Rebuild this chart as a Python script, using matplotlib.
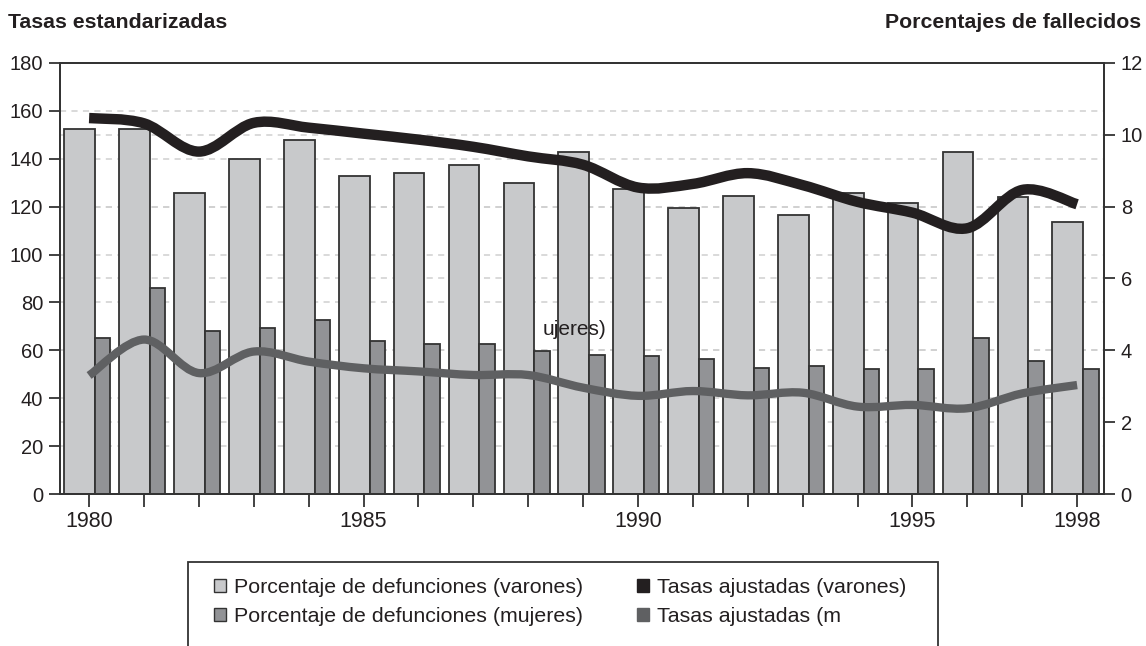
import numpy as np
import matplotlib.pyplot as plt
from matplotlib.path import Path
from matplotlib.patches import PathPatch, Patch, Rectangle

plt.rcParams['font.family'] = ['Liberation Sans', 'DejaVu Sans']

# datos
years = list(range(1980, 1999))
pct_varones = [10.17, 10.17, 8.39, 9.33, 9.85, 8.85, 8.93, 9.15, 8.66, 9.51,
               8.48, 7.97, 8.29, 7.77, 8.37, 8.09, 9.51, 8.27, 7.57]
pct_mujeres = [4.33, 5.73, 4.53, 4.62, 4.85, 4.26, 4.19, 4.19, 3.99, 3.88,
               3.85, 3.76, 3.50, 3.57, 3.47, 3.47, 4.33, 3.70, 3.47]
tasa_varones = [157, 154.8, 143, 155, 153, 150.5, 148, 145, 141, 137.5,
                128, 129.5, 134, 129, 122, 117.5, 111, 127, 121]
tasa_mujeres = [49.5, 64.5, 50.5, 59.5, 55.3, 52.5, 51.2, 49.7, 49.7, 44.4,
                41, 43, 41.2, 42.3, 36.5, 37.2, 35.8, 42, 45.5]
year_labels = {1980: '1980', 1985: '1985', 1990: '1990', 1995: '1995', 1998: '1998'}

labels = ['Porcentaje de defunciones (varones)',
          'Porcentaje de defunciones (mujeres)',
          'Tasas ajustadas (varones)',
          'Tasas ajustadas (m']

c_light = '#c8c9cb'
c_dark = '#929396'
c_black = '#231f20'
c_gray = '#5f6062'
c_text = '#231f20'


def smooth_path(xs, ys):
    # curva suave (Catmull-Rom como Bezier) que pasa por los puntos
    pts = np.column_stack([xs, ys]).astype(float)
    verts = [pts[0]]
    codes = [Path.MOVETO]
    n = len(pts)
    for i in range(n - 1):
        p0 = pts[max(i - 1, 0)]
        p1 = pts[i]
        p2 = pts[i + 1]
        p3 = pts[min(i + 2, n - 1)]
        verts += [p1 + (p2 - p0) / 6, p2 - (p3 - p1) / 6, p2]
        codes += [Path.CURVE4] * 3
    return Path(verts, codes)


fig = plt.figure(figsize=(11.46, 6.46), dpi=100)
ax = fig.add_axes([60 / 1146, 152 / 646, 1044 / 1146, 431 / 646])
ax2 = ax.twinx()
ax.set_zorder(ax2.get_zorder() + 1)
ax.patch.set_visible(False)

x = np.array(years)
ax2.bar(x - 0.17, pct_varones, width=0.56, color=c_light,
        edgecolor='#333333', linewidth=1.3, zorder=2)
ax2.bar(x + 0.25, pct_mujeres, width=0.28, color=c_dark,
        edgecolor='#333333', linewidth=1.3, zorder=2)

ax.add_patch(PathPatch(smooth_path(years, tasa_varones), facecolor='none',
                       edgecolor=c_black, linewidth=7.5, capstyle='butt', joinstyle='round'))
ax.add_patch(PathPatch(smooth_path(years, tasa_mujeres), facecolor='none',
                       edgecolor=c_gray, linewidth=6, capstyle='butt', joinstyle='round'))

ax.set_xlim(1979.47, 1998.49)
ax.set_ylim(0, 180)
ax2.set_ylim(0, 12)
ax.set_yticks(range(0, 181, 20))
ax2.set_yticks(range(0, 13, 2))
ax.set_xticks(years)
ax.set_xticklabels([year_labels.get(y, '') for y in years])

# rejilla discontinua de ambos ejes, detras de las barras
for v in list(range(20, 180, 20)) + list(range(30, 180, 30)):
    ax2.axhline(v * 12 / 180, color='#cfcfcf', linestyle=(0, (4, 3.5)),
                linewidth=1.1, zorder=0)

for a in (ax, ax2):
    for s in a.spines.values():
        s.set_color('#333333')
        s.set_linewidth(1.3)
    a.tick_params(axis='both', direction='out', length=8, width=1.3,
                  color='#333333', labelsize=14.5, labelcolor=c_text, pad=4)
ax.tick_params(axis='x', labelsize=15.5, length=9, pad=3)

ax.text(1988.27, 68.5, 'ujeres)', fontsize=15, color=c_text, va='center', ha='left')

fig.text(8 / 1146, 1 - 22 / 646, 'Tasas estandarizadas', fontsize=15.3,
         fontweight='bold', color=c_text, va='center', ha='left')
fig.text(1141 / 1146, 1 - 22 / 646, 'Porcentajes de fallecidos', fontsize=15.3,
         fontweight='bold', color=c_text, va='center', ha='right')

handles = [Patch(facecolor=c_light, edgecolor='#333333', linewidth=1),
           Patch(facecolor=c_dark, edgecolor='#333333', linewidth=1),
           Patch(facecolor=c_black, edgecolor=c_black, linewidth=1),
           Patch(facecolor=c_gray, edgecolor=c_gray, linewidth=1)]
fig.legend(handles, labels, ncol=2, loc='upper left',
           bbox_to_anchor=(214 / 1146, 1 - 578 / 646), frameon=False,
           fontsize=15.4, labelcolor=c_text, handlelength=0.55, handleheight=0.55,
           handletextpad=0.4, columnspacing=2.5, labelspacing=0.45,
           borderaxespad=0, borderpad=0)
fig.patches.append(Rectangle((188 / 1146, -0.05), (938 - 188) / 1146,
                             1 - 562 / 646 + 0.05, transform=fig.transFigure,
                             facecolor='none', edgecolor='#333333', linewidth=1.3))

fig.savefig('out.png', dpi=100)
